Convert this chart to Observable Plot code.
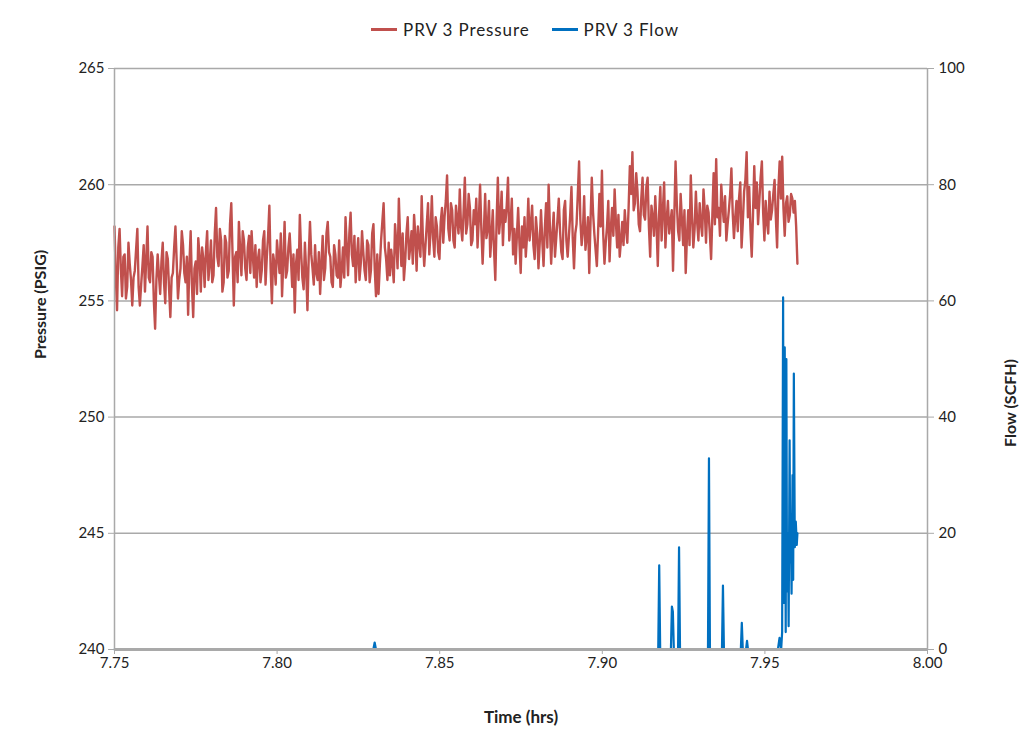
<!DOCTYPE html>
<html><head><meta charset="utf-8">
<script src="https://cdn.jsdelivr.net/npm/d3@7"></script>
<script src="https://cdn.jsdelivr.net/npm/@observablehq/plot@0.6"></script>
<style>
body{margin:0;background:#fff;font-family:Lato,"Open Sans",sans-serif;}
#legend{height:42px;padding-top:8px;display:flex;justify-content:center;align-items:center;font-size:17px;letter-spacing:0.9px;color:#222;padding-left:24px;box-sizing:content-box;}
#legend .item{display:flex;align-items:center;margin:0 11px;}
#legend .sw{display:inline-block;width:26px;height:3px;margin-right:6px;}
</style></head><body>
<div id="legend"></div><div id="chart"></div>
<script>
// Pressure series (PSIG), sampled uniformly from 7.75 to 7.96 hrs
const pressureStart = 7.75, pressureEnd = 7.96;
const pressure = [
258.2,256.1,254.6,257.3,258.1,256.4,255.2,256.9,257.0,255.1,255.6,257.5,256.6,255.9,254.8,256.0,256.3,257.2,258.1,255.6,254.8,255.7,256.5,257.4,255.4,256.8,258.2,256.0,255.8,257.1,256.9,255.0,253.8,255.9,257.0,256.1,255.3,256.7,257.5,255.8,254.9,257.1,256.8,255.5,254.3,256.0,256.2,257.3,258.2,256.7,255.1,255.9,256.4,258.0,257.4,256.2,255.8,256.9,254.4,256.6,258.0,255.7,254.3,256.4,256.7,255.3,257.7,256.9,255.4,257.3,256.8,255.6,257.1,258.0,255.9,256.6,257.6,255.8,256.1,257.9,259.0,256.9,256.5,258.1,257.6,255.4,255.8,257.8,257.5,256.0,256.3,258.3,259.2,257.0,254.8,256.9,257.1,255.8,258.4,257.2,256.1,258.0,257.6,256.4,255.9,257.3,257.8,
256.2,258.0,256.9,256.0,257.4,255.6,256.8,257.2,255.8,256.3,257.6,258.0,255.7,256.9,257.8,259.1,256.4,254.9,257.0,256.6,255.7,257.6,256.9,256.2,257.9,255.2,256.7,258.4,256.0,256.3,257.3,257.9,256.8,255.6,257.0,254.5,256.6,257.2,255.9,258.7,257.1,256.0,255.5,257.5,256.3,254.6,256.9,258.4,257.0,256.4,255.7,257.4,256.2,255.9,257.1,255.3,256.6,257.8,255.9,256.4,257.9,258.4,257.1,256.9,255.8,255.6,257.4,257.0,256.1,256.0,257.6,255.6,256.3,257.3,256.0,258.6,257.3,256.1,257.9,258.8,257.0,256.5,257.8,255.8,256.9,257.7,255.9,256.6,258.0,257.1,256.3,255.9,257.6,257.4,255.8,256.3,257.9,258.3,256.4,255.2,257.0,255.3,256.5,257.6,258.4,259.2,257.3,256.8,255.9,257.5,
256.1,257.2,256.6,255.8,258.3,257.5,256.4,259.4,257.7,256.5,257.9,255.9,256.7,257.9,258.6,256.8,257.3,258.0,256.6,258.7,257.8,256.3,258.2,257.5,256.9,259.5,257.6,256.5,257.4,258.3,259.2,257.0,258.0,259.5,257.7,256.9,258.6,258.2,257.1,256.8,258.4,259.0,257.5,258.6,259.3,260.4,258.1,257.6,259.2,258.9,257.6,257.3,259.1,258.5,257.9,259.8,258.2,257.6,258.8,260.3,257.9,258.3,259.6,259.0,257.4,257.6,258.9,258.3,259.4,257.3,258.5,260.0,258.1,256.6,258.0,259.6,257.7,258.1,259.3,256.9,257.8,258.9,257.2,255.9,258.4,260.3,257.9,258.6,259.7,257.4,258.9,258.4,259.1,260.3,257.6,258.3,259.4,257.0,258.1,256.6,257.8,259.0,257.5,256.2,258.2,257.3,258.6,256.9,257.8,259.4,
257.6,258.3,259.1,257.4,256.8,258.6,257.9,256.4,257.5,258.9,257.6,256.5,258.1,259.2,257.3,260.0,258.2,256.6,257.9,258.8,256.9,257.7,258.5,259.4,258.0,257.1,256.8,258.9,259.3,257.6,256.9,257.8,258.7,259.9,257.7,256.4,257.9,258.3,259.6,261.0,258.5,257.4,258.0,259.5,257.2,257.8,258.6,256.2,258.4,260.3,258.8,257.9,257.2,256.5,258.0,259.6,258.2,260.6,257.9,256.6,257.5,258.2,259.3,256.7,258.1,259.0,257.8,259.8,258.4,257.3,258.7,256.9,257.6,258.4,257.4,258.9,258.1,257.5,259.0,260.8,259.6,261.4,258.9,259.2,260.5,259.7,258.3,258.0,259.4,260.3,258.7,258.5,259.9,260.3,258.2,256.9,259.1,258.6,257.8,259.5,258.3,256.5,258.7,259.9,257.6,258.9,260.1,257.3,258.5,259.3,257.9,258.4,
258.9,256.3,258.6,261.0,259.2,258.0,257.6,259.6,258.5,257.4,258.9,256.2,257.8,258.9,257.4,260.4,258.6,257.3,258.1,259.7,258.4,257.6,259.2,258.3,257.8,259.8,258.9,257.5,259.1,258.8,257.9,256.8,258.7,260.5,258.3,261.1,258.6,259.0,257.8,260.0,259.1,258.4,259.5,257.6,258.3,258.9,259.6,260.7,258.8,257.7,258.6,259.3,258.0,259.4,260.1,257.3,258.4,259.7,260.2,261.4,258.6,259.9,258.1,256.9,258.7,260.8,259.0,260.1,258.3,259.3,260.3,261.0,258.8,257.6,259.3,258.4,257.9,259.7,258.5,258.9,259.6,260.2,258.6,257.3,259.8,261.0,259.4,261.2,259.0,257.8,259.2,259.5,258.4,258.7,259.6,259.4,258.8,259.3,258.2,256.6
];

// Flow series (SCFH)
const flowTime = [7.75,7.8296,7.8300,7.8304,
7.9172,7.9175,7.9178,
7.9211,7.9214,7.9217,7.9220,
7.9233,7.9236,7.9239,
7.9325,7.9328,7.9331,
7.9368,7.9371,7.9374,
7.9426,7.9429,7.9432,7.9442,7.9445,7.9448,
7.9540,7.9545,7.9550,7.9553,7.9556,7.9558,7.9561,7.9564,7.9566,7.9568,7.9571,7.9573,7.9576,7.9578,7.9580,7.9582,7.9585,7.9587,7.9589,7.9592,7.9595,7.9598,7.9600];
const flowValue = [0,0,1.2,0,
0,14.5,0,
0,7.4,6.5,0,
0,17.6,0,
0,32.9,0,
0,11,0,
0,4.6,0,0,1.5,0,
0,2,0,3,60.6,8,52,3,50,10,20,4,36,15,20,9.6,30,12,47.5,17.6,22,18,20];

const xTicks = [7.75,7.80,7.85,7.90,7.95,8.00];
const pressureTicks = [240,245,250,255,260,265];
const flowTicks = [0,20,40,60,80,100];

const seriesNames = ["PRV 3 Pressure","PRV 3 Flow"];
const seriesColors = ["#C0504D","#0070C0"];

// build tables
const pStep = (pressureEnd - pressureStart) / (pressure.length - 1);
const pData = pressure.map((v, i) => ({t: pressureStart + i * pStep, v}));
const fData = flowTime.map((t, i) => ({t, v: flowValue[i]}));
// flow axis 0..100 mapped onto pressure axis 240..265
const f2p = f => 240 + f * (25 / 100);
const p2f = p => (p - 240) * (100 / 25);

const legend = document.getElementById("legend");
seriesNames.forEach((n, i) => {
  const d = document.createElement("span");
  d.className = "item";
  d.innerHTML = `<span class="sw" style="background:${seriesColors[i]}"></span>${n}`;
  legend.appendChild(d);
});

const grid = "#a9a9a9";
const chart = Plot.plot({
  width: 1026, height: 696,
  marginLeft: 114, marginRight: 99, marginTop: 18, marginBottom: 97,
  style: {fontFamily: "Lato, 'Open Sans', sans-serif", fontSize: "15px", color: "#222", background: "#fff", overflow: "visible"},
  x: {domain: [7.75, 8.0]},
  y: {domain: [240, 265]},
  marks: [
    Plot.ruleY(pressureTicks, {stroke: grid, strokeWidth: 1.5}),
    Plot.line(fData, {x: "t", y: d => f2p(d.v), stroke: seriesColors[1], strokeWidth: 2.2}),
    Plot.line(pData, {x: "t", y: "v", stroke: seriesColors[0], strokeWidth: 2.4}),
    Plot.ruleY([240], {stroke: grid, strokeWidth: 3}),
    Plot.ruleX([7.75], {stroke: grid, strokeWidth: 1.5}),
    Plot.ruleX([8.0], {stroke: grid, strokeWidth: 1.5}),
    Plot.axisX({ticks: xTicks, tickFormat: d3.format(".2f"), tickSize: 5, tickPadding: 3, stroke: grid, label: null}),
    Plot.axisY({anchor: "left", ticks: pressureTicks, tickSize: 6, tickPadding: 4, stroke: grid, label: null}),
    Plot.axisY({anchor: "right", ticks: flowTicks.map(f2p), tickFormat: p2f, tickSize: 6, tickPadding: 5, stroke: grid, label: null}),
    Plot.text(["Pressure (PSIG)"], {frameAnchor: "left", dx: -74, rotate: -90, fontWeight: "bold", fontSize: 16, fill: "#222"}),
    Plot.text(["Flow (SCFH)"], {frameAnchor: "right", dx: 83, rotate: -90, fontWeight: "bold", fontSize: 16, fill: "#222"}),
    Plot.text(["Time (hrs)"], {frameAnchor: "bottom", dy: 73, fontWeight: "bold", fontSize: 17, fill: "#222"})
  ]
});
document.getElementById("chart").appendChild(chart);
</script></body></html>
